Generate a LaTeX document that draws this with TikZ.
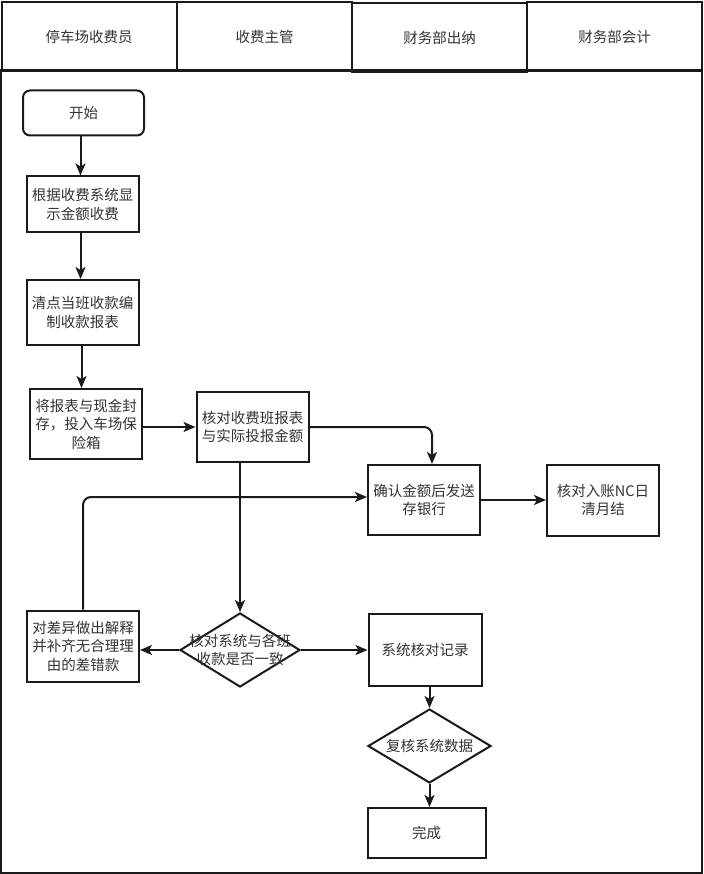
\documentclass[tikz,border=0pt]{standalone}
\usepackage{fontspec}
\newfontfamily\cjk{Noto Sans CJK SC}
\usetikzlibrary{shapes.geometric,arrows.meta}
\definecolor{ln}{HTML}{1A1A1A}
\definecolor{tx}{HTML}{333333}
\tikzset{
  base/.style={draw=ln,line width=2pt,fill=white,text=tx,align=center,inner sep=0pt,
    font=\cjk\fontsize{14.5}{18.5}\selectfont},
  box/.style={base,rectangle,minimum width=#1},
  box/.default=112pt,
  startbox/.style={base,rectangle,rounded corners=7pt,minimum width=121pt,minimum height=45pt},
  dia/.style={draw=ln,line width=2pt,fill=white,diamond,inner sep=0pt},
  txt/.style={text=tx,align=center,inner sep=0pt,font=\cjk\fontsize{14.5}{18.5}\selectfont},
  hdr/.style={draw=ln,line width=2pt,rectangle,text=tx,inner sep=0pt,
    font=\cjk\fontsize{14.5}{18.5}\selectfont,minimum width=175pt,minimum height=69pt},
  conn/.style={draw=ln,line width=2pt,rounded corners=8pt,-{Stealth[length=12pt,width=10pt,inset=3pt]}}
}
\begin{document}
\begin{tikzpicture}[x=1pt,y=-1pt]
\useasboundingbox (0,0) rectangle (703,874);
% frame
\draw[ln,line width=2pt] (1,70) rectangle (702,873);
% headers
\node[hdr] (h1) at (89,36.5) {停车场收费员};
\node[hdr] (h2) at (264.5,37) {收费主管};
\node[hdr] (h3) at (439.5,37.5) {财务部出纳};
\node[hdr] (h4) at (614.5,36.5) {财务部会计};
% nodes
\node[startbox] (n1) at (83.5,113) {开始};
\node[box,minimum height=56pt] (n2) at (82.5,204.5) {根据收费系统显\\示金额收费};
\node[box,minimum height=65pt] (n3) at (82.5,312.5) {清点当班收款编\\制收款报表};
\node[box,minimum height=70pt] (n4) at (86,424) {将报表与现金封\\存，投入车场保\\险箱};
\node[box,minimum height=70pt] (n5) at (252.5,427) {核对收费班报表\\与实际投报金额};
\node[box,minimum height=70pt] (n7) at (424,500) {确认金额后发送\\存银行};
\node[box,minimum height=71pt] (n8) at (603,500) {核对入账NC日\\清月结};
\node[box,minimum height=71pt] (n6) at (83,646) {对差异做出解释\\并补齐无合理理\\由的差错款};
\node[dia,minimum width=120pt,minimum height=74pt] (d1) at (240,650) {};
\node[txt] at (d1) {核对系统与各班\\收款是否一致};
\node[box,minimum width=113pt,minimum height=72pt] (n9) at (425,650) {系统核对记录};
\node[dia,minimum width=123pt,minimum height=74pt] (d2) at (429.5,746) {};
\node[txt] at (d2) {复核系统数据};
\node[box,minimum width=118pt,minimum height=50pt] (n10) at (426.5,833) {完成};
% connectors
\draw[conn] ([xshift=-3pt]n1.south) -- ([xshift=-2pt]n2.north);
\draw[conn] ([xshift=-2pt]n2.south) -- ([xshift=-2pt]n3.north);
\draw[conn] ([xshift=-1pt]n3.south) -- ([xshift=-1pt]n3.south |- n4.north);
\draw[conn] (n4.east |- n5.west) -- (n5.west);
\draw[conn] (n5.east) -| ([xshift=8pt]n7.north);
\draw[conn] (d1.north |- n5.south) -- (d1.north);
\draw[conn] (d1.west) -- (n6.east |- d1.west);
\draw[conn] (d1.east) -- (n9.west);
\draw[conn] (n6.north) |- ([yshift=3pt]n7.west);
\draw[conn] (n7.east) -- (n8.west);
\draw[conn] (d2.north |- n9.south) -- (d2.north);
\draw[conn] (d2.south) -- (d2.south |- n10.north);
\end{tikzpicture}
\end{document}
